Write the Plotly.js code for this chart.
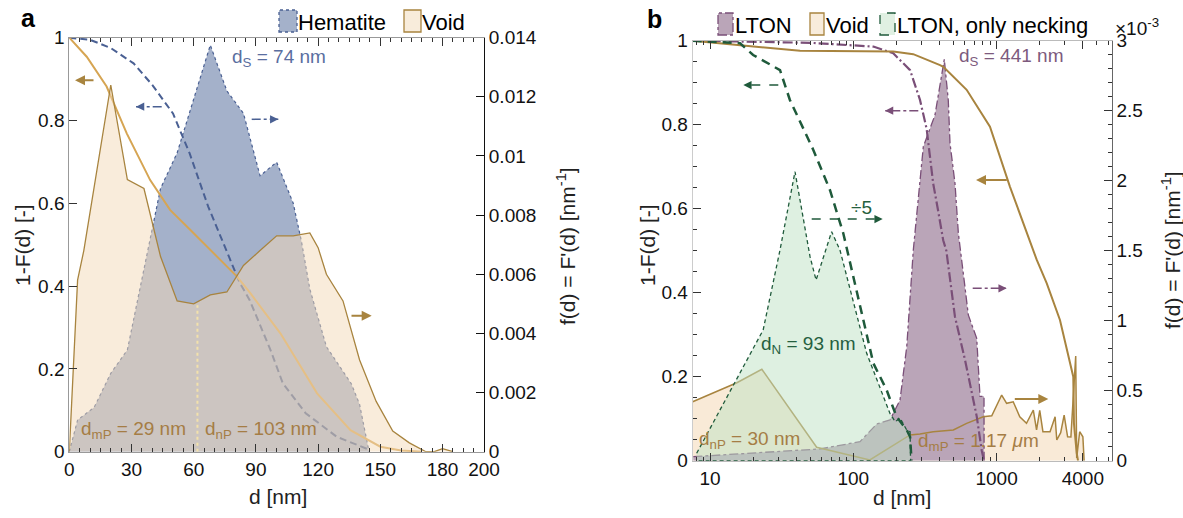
<!DOCTYPE html>
<html><head><meta charset="utf-8">
<script src="https://cdn.plot.ly/plotly-3.0.1.min.js"></script>
<style>html,body{margin:0;padding:0;background:#fff;}#chart{width:1183px;height:518px;}</style>
</head><body><div id="chart"></div>
<script>
// ---------- Panel a : Hematite / Void (linear d) ----------
const hemX   = [0, 4, 12, 20, 28, 44, 52, 68, 76, 84, 92, 100, 108, 112, 116, 124, 136, 140, 144, 144.5];
const hemF   = [0, 0.00107, 0.0015, 0.00265, 0.00344, 0.0089, 0.0101, 0.01375, 0.0122, 0.01144, 0.00933, 0.00979, 0.0084, 0.0071, 0.0055, 0.00355, 0.0023, 0.0016, 0.0002, 0];
const hemCX  = [0, 10, 20, 31, 40, 50, 58, 67, 77, 82, 87, 97, 103, 114, 129, 144];
const hemCDF = [1, 0.995, 0.975, 0.938, 0.886, 0.817, 0.721, 0.592, 0.471, 0.41, 0.366, 0.246, 0.165, 0.093, 0.036, 0.006];
const voidAX = [0, 4, 7, 20, 28, 36, 44, 52, 60, 68, 76, 84, 92, 100, 108, 116, 120, 124, 132, 140, 148, 156, 164, 172, 176, 180, 185];
const voidAF = [0, 0.0058, 0.0068, 0.0124, 0.0092, 0.0089, 0.0066, 0.0051, 0.0050, 0.0053, 0.0054, 0.0063, 0.0068, 0.0073, 0.0073, 0.0074, 0.0069, 0.0060, 0.0051, 0.0031, 0.0017, 0.0007, 0.0003, 0, 0, 0.0001, 0];
const voidACX  = [0, 8.4, 18, 27.7, 39, 48.6, 58.3, 70, 80.9, 87.3, 101.8, 119.5, 135.6, 150, 160, 170];
const voidACDF = [1, 0.954, 0.882, 0.769, 0.656, 0.584, 0.536, 0.477, 0.423, 0.383, 0.286, 0.141, 0.052, 0.012, 0.003, 0];
const aXTicks = [0, 30, 60, 90, 120, 150, 180, 200];
const aYLeftTicks = [0, 0.2, 0.4, 0.6, 0.8, 1];
const aYLeftText  = ['0', '0.2', '0.4', '0.6', '0.8', '1'];
const aYRightTicks = [0, 0.002, 0.004, 0.006, 0.008, 0.01, 0.012, 0.014];
const aYRightText  = ['0', '0.002', '0.004', '0.006', '0.008', '0.01', '0.012', '0.014'];
const aXMinor = [5,10,15,20,25,35,40,45,50,55,65,70,75,80,85,95,100,105,110,115,125,130,135,140,145,155,160,165,170,175,185,190,195];

// ---------- Panel b : LTON / Void / LTON necking (log d), f in 1e-3 nm^-1 ----------
const ltonX = [7.65, 58.6, 111.4, 145.6, 180.3, 211.8, 236, 262.3, 308, 333.5, 371.5, 431.5, 460, 473, 512.6, 541, 555.4, 600, 634.6, 700, 726.6, 766, 817, 818];
const ltonF = [0.029, 0.084, 0.136, 0.262, 0.291, 0.433, 0.814, 1.505, 2.243, 2.339, 2.469, 2.867, 2.576, 2.267, 1.98, 1.624, 1.52, 1.25, 1.041, 0.93, 0.874, 0.46, 0.46, 0];
const ltonCX  = [7.57, 50, 138, 190, 249, 292, 325, 361, 390, 424, 446, 512, 602, 727, 787, 817];
const ltonCDF = [1, 0.995, 0.986, 0.970, 0.930, 0.859, 0.79, 0.66, 0.597, 0.525, 0.5, 0.343, 0.24, 0.105, 0.025, 0];
const voidBX = [7.57, 15.4, 23, 55.5, 130.4, 249, 292, 361, 499, 618, 807, 925, 1085, 1175, 1306, 1451, 1617, 1804, 1900, 2000, 2105, 2360, 2560, 2630, 2800, 2960, 3130, 3300, 3565, 3622, 3800, 4000, 4080];
const voidBF = [0.421, 0.557, 0.653, 0.096, 0.005, 0.184, 0.19, 0.207, 0.219, 0.267, 0.314, 0.321, 0.469, 0.41, 0.421, 0.314, 0.267, 0.362, 0.22, 0.36, 0.207, 0.207, 0.314, 0.148, 0.2, 0.326, 0.171, 0.17, 0.748, 0.02, 0.207, 0.171, 0];
const voidBCX  = [7.57, 16.2, 42.5, 190, 262, 403, 425, 618, 899, 1240, 1804, 1907, 2239, 2768, 3428, 3465, 3622, 3700];
const voidBCDF = [1, 0.99, 0.976, 0.974, 0.968, 0.942, 0.938, 0.883, 0.795, 0.652, 0.502, 0.478, 0.422, 0.335, 0.2, 0.089, 0.018, 0];
const neckX = [8.07, 15.36, 23.5, 30.8, 39.2, 49.9, 55, 70.6, 80.7, 124, 180, 196, 212, 236, 249, 251];
const neckF = [0.053, 0.589, 0.934, 1.505, 2.064, 1.457, 1.29, 1.636, 1.505, 0.767, 0.339, 0.279, 0.303, 0.219, 0.207, 0];
const neckCX  = [7.57, 16.2, 20, 30.8, 36.1, 52.6, 68.8, 85.2, 138, 171, 200, 236, 249, 255];
const neckCDF = [1, 0.994, 0.966, 0.930, 0.859, 0.74, 0.644, 0.541, 0.232, 0.168, 0.105, 0.073, 0.057, 0];
const bXTicks = [10, 100, 1000, 4000];
const bXText  = ['10', '100', '1000', '4000'];
const bXMinor = [8, 9, 20, 30, 40, 50, 60, 70, 80, 90, 200, 300, 400, 500, 600, 700, 800, 900, 2000, 3000, 5000, 6000];
const bYLeftTicks = [0, 0.2, 0.4, 0.6, 0.8, 1];
const bYLeftText  = ['0', '0.2', '0.4', '0.6', '0.8', '1'];
const bYLeftMinor = [0.05,0.1,0.15,0.25,0.3,0.35,0.45,0.5,0.55,0.65,0.7,0.75,0.85,0.9,0.95];
const bYRightTicks = [0, 0.5, 1, 1.5, 2, 2.5, 3];
const bYRightText  = ['0', '0.5', '1', '1.5', '2', '2.5', '3'];
const bYRightMinor = [0.1,0.2,0.3,0.4,0.6,0.7,0.8,0.9,1.1,1.2,1.3,1.4,1.6,1.7,1.8,1.9,2.1,2.2,2.3,2.4,2.6,2.7,2.8,2.9];

// ---------- colours ----------
const BLUE = '#4a6093', BLUEFILL = '#a4b1ca', BLUETXT = '#5a6ea0';
const BROWN = '#a8843f', VOIDCDF_A = '#d6a553', VOIDFILL = 'rgba(244,217,183,0.5)', BROWNTXT = '#a57d45';
const PURPLE = '#7a4f78', PURPLEFILL = '#baa5b8', PURPLETXT = '#7d5a7d';
const GREEN = '#1f5a3b', GREENFILL = 'rgba(190,225,196,0.5)', GREENTXT = '#255f3f';

const W = 1183, H = 518;
const PX = x => x / W, PY = y => 1 - y / H;
const FONT = 'Liberation Sans, Arial, Helvetica, sans-serif';

const traces = [
  // panel a
  {x: hemX, y: hemF, xaxis: 'x', yaxis: 'y', mode: 'lines', fill: 'tozeroy', fillcolor: BLUEFILL,
   line: {color: BLUE, width: 1.2, dash: 'dot'}},
  {x: hemCX, y: hemCDF, xaxis: 'x', yaxis: 'y2', mode: 'lines', line: {color: BLUE, width: 2, dash: '7px,4px'}},
  {x: voidACX, y: voidACDF, xaxis: 'x', yaxis: 'y2', mode: 'lines', line: {color: VOIDCDF_A, width: 2}},
  {x: voidAX, y: voidAF, xaxis: 'x', yaxis: 'y5', mode: 'lines', fill: 'tozeroy', fillcolor: VOIDFILL,
   line: {color: BROWN, width: 1.3}},
  // panel b
  {x: voidBX, y: voidBF, xaxis: 'x2', yaxis: 'y3', mode: 'lines', fill: 'tozeroy', fillcolor: 'rgba(244,217,183,0.55)',
   line: {color: 'rgba(0,0,0,0)', width: 0}},
  {x: ltonX, y: ltonF, xaxis: 'x2', yaxis: 'y3', mode: 'lines', fill: 'tozeroy', fillcolor: PURPLEFILL,
   line: {color: PURPLE, width: 1.3, dash: 'dashdot'}},
  {x: voidBX, y: voidBF, xaxis: 'x2', yaxis: 'y3', mode: 'lines', line: {color: BROWN, width: 1.5}},
  {x: neckX.concat([neckX[0]]), y: neckF.concat([0]), xaxis: 'x2', yaxis: 'y3', mode: 'lines', fill: 'toself',
   fillcolor: GREENFILL, line: {color: GREEN, width: 1.3, dash: '4px,3px'}},
  {x: ltonCX, y: ltonCDF, xaxis: 'x2', yaxis: 'y4', mode: 'lines', line: {color: PURPLE, width: 2.2, dash: '10px,3px,2px,3px'}},
  {x: voidBCX, y: voidBCDF, xaxis: 'x2', yaxis: 'y4', mode: 'lines', line: {color: BROWN, width: 2}},
  {x: neckCX, y: neckCDF, xaxis: 'x2', yaxis: 'y4', mode: 'lines', line: {color: GREEN, width: 2.5, dash: '9px,6px'}}
];

const tickFont = {family: FONT, size: 19, color: '#111'};
const common = {showgrid: false, zeroline: false, showline: true, ticks: 'inside', tickfont: tickFont, fixedrange: true};

const shapes = [];
const annotations = [];

function txt(text, x, y, opts) {
  annotations.push(Object.assign({text: text, x: PX(x), y: PY(y), xref: 'paper', yref: 'paper',
    showarrow: false, xanchor: 'left', yanchor: 'middle', font: {family: FONT, size: 19, color: '#222'}}, opts || {}));
}
function arrow(x1, y1, x2, y2, color, dash, width) {
  width = width || 1.6;
  if (dash) {
    shapes.push({type: 'line', xref: 'paper', yref: 'paper', x0: PX(x1), y0: PY(y1), x1: PX(x2), y1: PY(y2),
      line: {color: color, width: width, dash: dash}});
    const dir = Math.sign(x1 - x2);
    annotations.push({x: PX(x2), y: PY(y2), xref: 'paper', yref: 'paper', ax: dir * 7, ay: 0, text: '',
      showarrow: true, arrowhead: 2, arrowsize: 1.1, arrowwidth: width, arrowcolor: color, standoff: 0, startstandoff: 0});
  } else {
    annotations.push({x: PX(x2), y: PY(y2), xref: 'paper', yref: 'paper', ax: x1 - x2, ay: y1 - y2, text: '',
      showarrow: true, arrowhead: 2, arrowsize: 1.0, arrowwidth: width, arrowcolor: color, standoff: 0, startstandoff: 0});
  }
}
function swatch(x0, y0, x1, y1, fill, color, dash) {
  shapes.push({type: 'rect', xref: 'paper', yref: 'paper', x0: PX(x0), y0: PY(y1), x1: PX(x1), y1: PY(y0),
    fillcolor: fill, line: {color: color, width: 1.3, dash: dash}});
}

// panel labels
txt('<b>a</b>', 28, 18, {xanchor: 'center', font: {family: FONT, size: 25, color: '#000'}});
txt('<b>b</b>', 654, 19, {xanchor: 'center', font: {family: FONT, size: 25, color: '#000'}});
// legends
swatch(279, 10, 297, 32, BLUEFILL, BLUE, 'dot');
txt('Hematite', 296, 22, {font: {family: FONT, size: 22, color: '#000'}});
swatch(404, 10, 421, 32, '#f8ecdb', BROWN, 'solid');
txt('Void', 420, 22, {font: {family: FONT, size: 22, color: '#000'}});
swatch(718, 13, 733, 35, PURPLEFILL, PURPLE, 'dashdot');
txt('LTON', 733, 25, {font: {family: FONT, size: 22, color: '#000'}});
swatch(810, 13, 824, 35, '#f8ecdb', BROWN, 'solid');
txt('Void', 824, 25, {font: {family: FONT, size: 22, color: '#000'}});
swatch(880, 13, 895, 35, '#e0f0e2', GREEN, 'dash');
txt('LTON, only necking', 895, 25, {font: {family: FONT, size: 22, color: '#000'}});
txt('×10<sup>-3</sup>', 1113, 27, {font: {family: FONT, size: 19, color: '#111'}});
// panel a texts
txt('d<sub>S</sub> = 74 nm', 230, 58, {font: {family: FONT, size: 19, color: BLUETXT}});
txt('d<sub>mP</sub> = 29 nm', 79, 430, {font: {family: FONT, size: 19, color: BROWNTXT}});
txt('d<sub>nP</sub> = 103 nm', 203, 430, {font: {family: FONT, size: 19, color: BROWNTXT}});
// panel b texts
txt('d<sub>S</sub> = 441 nm', 957, 57, {font: {family: FONT, size: 19, color: PURPLETXT}});
txt('÷5', 861, 207, {xanchor: 'center', font: {family: FONT, size: 19, color: GREENTXT}});
txt('d<sub>N</sub> = 93 nm', 759, 345, {font: {family: FONT, size: 19, color: GREENTXT}});
txt('d<sub>nP</sub> = 30 nm', 697, 440, {font: {family: FONT, size: 19, color: BROWNTXT}});
txt('d<sub>mP</sub> = 1.17 <i>μ</i>m', 916, 442, {font: {family: FONT, size: 19, color: BROWNTXT}});
// axis titles
const TF = {family: FONT, size: 21, color: '#222'};
txt('1-F(d) [-]', 22, 245, {xanchor: 'center', textangle: -90, font: TF});
txt("f(d) = F'(d) [nm<sup>-1</sup>]", 566, 246, {xanchor: 'center', textangle: -90, font: TF});
txt('d [nm]', 278, 496, {xanchor: 'center', font: TF});
txt('1-F(d) [-]', 647, 245, {xanchor: 'center', textangle: -90, font: TF});
txt("f(d) = F'(d) [nm<sup>-1</sup>]", 1171, 250, {xanchor: 'center', textangle: -90, font: TF});
txt('d [nm]', 902, 497, {xanchor: 'center', font: TF});

// arrows panel a
arrow(95, 80.3, 75, 80.3, BROWN, null, 2);
arrow(161.7, 106.7, 136, 106.7, BLUE, 'dashdot', 1.5);
arrow(251.7, 119.3, 278.3, 119.3, BLUE, 'dashdot', 1.5);
arrow(350, 315.7, 371.7, 315.7, BROWN, null, 2);
// arrows panel b
arrow(778.3, 85, 743.3, 85, GREEN, 'dash', 1.5);
arrow(918.3, 110.7, 885, 110.7, PURPLE, 'dashdot', 1.5);
arrow(1008.3, 180, 976, 180, BROWN, null, 2);
arrow(811.7, 219, 882.7, 219, GREEN, 'dash', 1.5);
arrow(972.7, 288.3, 1006.7, 288.3, PURPLE, 'dashdot', 1.5);
arrow(1013.3, 399, 1048.3, 399, BROWN, null, 2);

// marker lines
shapes.push({type: 'line', xref: 'x', yref: 'y2', x0: 61.8, x1: 61.8, y0: 0, y1: 0.354,
  line: {color: '#f3e2ab', width: 2, dash: 'dot'}});
shapes.push({type: 'line', xref: 'x2', yref: 'y4', x0: Math.log10(2385), x1: Math.log10(2385), y0: 0, y1: 0.045,
  line: {color: '#f2b233', width: 2.5, dash: 'dot'}});

const layout = {
  width: W, height: H, margin: {l: 0, r: 0, t: 0, b: 0},
  paper_bgcolor: '#fff', plot_bgcolor: 'rgba(0,0,0,0)', showlegend: false,
  font: {family: FONT, size: 19, color: '#111'},
  xaxis: Object.assign({}, common, {domain: [PX(69.3), PX(484)], anchor: 'y', range: [0, 200],
    tickmode: 'array', tickvals: aXTicks, ticktext: aXTicks.map(String), ticklen: 8, tickcolor: '#333',
    linecolor: '#999', mirror: 'ticks',
    minor: {tickmode: 'array', tickvals: aXMinor, ticks: 'inside', ticklen: 4, tickcolor: '#333'}}),
  yaxis: Object.assign({}, common, {domain: [PY(451.7), PY(37.7)], anchor: 'x', side: 'right', range: [0, 0.014],
    tickmode: 'array', tickvals: aYRightTicks, ticktext: aYRightText, ticklen: 8, tickcolor: '#111', linecolor: '#111'}),
  yaxis2: Object.assign({}, common, {overlaying: 'y', anchor: 'x', side: 'left', range: [0, 1],
    tickmode: 'array', tickvals: aYLeftTicks, ticktext: aYLeftText, ticklen: 8, tickcolor: '#333', linecolor: '#999'}),
  yaxis5: {overlaying: 'y', anchor: 'x', range: [0, 0.014], visible: false, fixedrange: true},
  xaxis2: Object.assign({}, common, {domain: [PX(692.7), PX(1111.7)], anchor: 'y3', type: 'log', range: [0.8793, 3.8032],
    tickmode: 'array', tickvals: bXTicks, ticktext: bXText, ticklen: 8, tickcolor: '#333',
    linecolor: '#bbb', mirror: 'ticks',
    minor: {tickmode: 'array', tickvals: bXMinor, ticks: 'inside', ticklen: 4, tickcolor: '#333'}}),
  yaxis3: Object.assign({}, common, {domain: [PY(460.7), PY(40.7)], anchor: 'x2', side: 'right', range: [0, 3],
    tickmode: 'array', tickvals: bYRightTicks, ticktext: bYRightText, ticklen: 8, tickcolor: '#333', linecolor: '#666',
    minor: {tickmode: 'array', tickvals: bYRightMinor, ticks: 'inside', ticklen: 4, tickcolor: '#333'}}),
  yaxis4: Object.assign({}, common, {overlaying: 'y3', anchor: 'x2', side: 'left', range: [0, 1],
    tickmode: 'array', tickvals: bYLeftTicks, ticktext: bYLeftText, ticklen: 8, tickcolor: '#333', linecolor: '#ccc',
    minor: {tickmode: 'array', tickvals: bYLeftMinor, ticks: 'inside', ticklen: 4, tickcolor: '#333'}}),
  shapes: shapes,
  annotations: annotations
};

Plotly.newPlot('chart', traces, layout, {staticPlot: true, displayModeBar: false});
</script>
</body></html>
